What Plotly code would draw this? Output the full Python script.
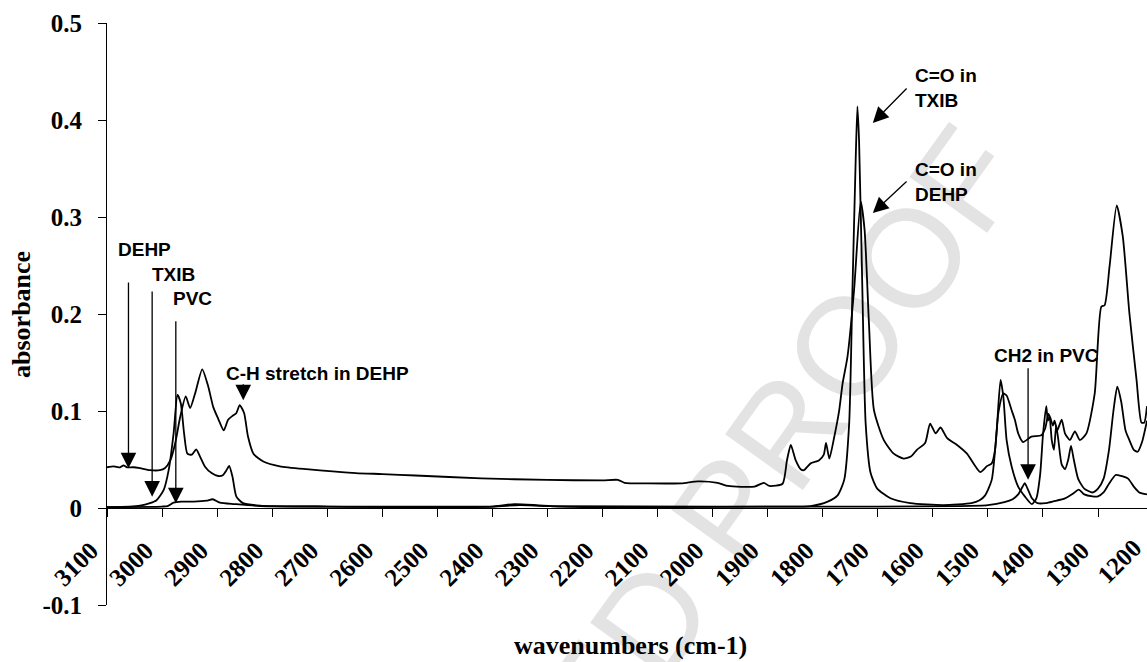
import plotly.graph_objects as go

# ---------------- data ----------------
dehp_wn = [3100, 3088, 3076, 3070, 3064, 3052, 3040, 3022, 3004, 2995, 2985, 2976, 2967, 2957, 2949,
           2940, 2927, 2916, 2907, 2898, 2888, 2880, 2872, 2865, 2859, 2851, 2844, 2834, 2816, 2786,
           2738, 2648, 2600, 2540, 2420, 2300, 2200, 2172, 2160, 2117, 2057, 2027, 1991, 1972, 1924,
           1907, 1897, 1873, 1865, 1858, 1849, 1840, 1834, 1822, 1807, 1798, 1794, 1788, 1779, 1770,
           1764, 1755, 1743, 1731, 1724, 1716, 1707, 1689, 1671, 1653, 1640, 1629, 1614, 1605, 1595,
           1586, 1574, 1556, 1538, 1514, 1502, 1493, 1487, 1481, 1472, 1466, 1457, 1451, 1445, 1436,
           1421, 1403, 1396, 1390, 1386, 1382, 1379, 1374, 1366, 1360, 1351, 1342, 1333, 1321, 1306,
           1294, 1288, 1279, 1266, 1255, 1243, 1230, 1221, 1216, 1211]
dehp_abs = [0.042, 0.043, 0.042, 0.044, 0.042, 0.042, 0.041, 0.039, 0.039, 0.041, 0.049, 0.067, 0.094, 0.115, 0.103,
            0.118, 0.143, 0.125, 0.104, 0.092, 0.080, 0.091, 0.095, 0.098, 0.106, 0.098, 0.074, 0.056, 0.048, 0.043,
            0.040, 0.036, 0.035, 0.0335, 0.0306, 0.0289, 0.0285, 0.029, 0.026, 0.0254, 0.0254, 0.0275, 0.026, 0.0227, 0.022,
            0.026, 0.0227, 0.025, 0.049, 0.065, 0.049, 0.040, 0.039, 0.046, 0.049, 0.055, 0.067, 0.051, 0.0735, 0.101,
            0.128, 0.156, 0.225, 0.316, 0.287, 0.190, 0.101, 0.070, 0.056, 0.051, 0.053, 0.060, 0.067, 0.087, 0.077,
            0.083, 0.072, 0.065, 0.056, 0.037, 0.043, 0.046, 0.060, 0.098, 0.118, 0.116, 0.101, 0.091, 0.077, 0.068,
            0.0735, 0.075, 0.082, 0.097, 0.092, 0.085, 0.090, 0.080, 0.091, 0.077, 0.070, 0.079, 0.070, 0.077, 0.118,
            0.2075, 0.209, 0.249, 0.312, 0.280, 0.201, 0.132, 0.088, 0.088, 0.105]

txib_wn = [3100, 3060, 3040, 3022, 3010, 2997, 2988, 2979, 2972, 2966, 2960, 2954, 2946, 2938, 2931,
           2922, 2910, 2898, 2889, 2883, 2878, 2872, 2865, 2853, 2822, 2700, 2400, 2360, 2320, 2280,
           1900, 1822, 1791, 1773, 1761, 1752, 1746, 1740, 1737, 1734, 1728, 1722, 1713, 1701, 1677,
           1641, 1581, 1530, 1515, 1505, 1493, 1484, 1477, 1472, 1466, 1457, 1445, 1433, 1420, 1412,
           1405, 1400, 1394, 1391, 1388, 1384, 1380, 1376, 1372, 1366, 1360, 1354, 1349, 1344, 1336,
           1325, 1310, 1300, 1290, 1280, 1272, 1265, 1258, 1250, 1243, 1235, 1228, 1220, 1211]
txib_abs = [0.001, 0.0015, 0.0024, 0.005, 0.008, 0.0186, 0.039, 0.077, 0.1165, 0.108, 0.077, 0.056, 0.055, 0.0605, 0.053,
            0.0426, 0.036, 0.033, 0.034, 0.039, 0.0433, 0.032, 0.0117, 0.005, 0.0025, 0.0015, 0.0015, 0.004, 0.003, 0.0015,
            0.0015, 0.002, 0.0065, 0.013, 0.029, 0.087, 0.225, 0.362, 0.414, 0.379, 0.225, 0.087, 0.036, 0.020, 0.010,
            0.005, 0.003, 0.005, 0.008, 0.013, 0.029, 0.080, 0.132, 0.115, 0.070, 0.043, 0.022, 0.012, 0.004, 0.010,
            0.035, 0.075, 0.105, 0.090, 0.094, 0.070, 0.060, 0.085, 0.070, 0.045, 0.040, 0.050, 0.064, 0.050, 0.030,
            0.020, 0.016, 0.020, 0.030, 0.060, 0.100, 0.125, 0.110, 0.080, 0.070, 0.060, 0.058, 0.068, 0.090]

pvc_wn = [3100, 3000, 2990, 2979, 2965, 2943, 2919, 2908, 2895, 2868, 2822, 2700, 2400, 2350, 2300,
          2000, 1700, 1550, 1500, 1470, 1455, 1445, 1437, 1433, 1428, 1420, 1410, 1395, 1380, 1360,
          1345, 1335, 1325, 1310, 1300, 1290, 1280, 1268, 1258, 1245, 1235, 1225, 1211]
pvc_abs = [0.001, 0.0015, 0.002, 0.0055, 0.0065, 0.0065, 0.0075, 0.009, 0.0055, 0.004, 0.002, 0.0015, 0.0015, 0.003, 0.002,
           0.0015, 0.0015, 0.002, 0.003, 0.006, 0.009, 0.014, 0.022, 0.0255, 0.020, 0.010, 0.005, 0.005, 0.007, 0.010,
           0.015, 0.019, 0.014, 0.012, 0.012, 0.016, 0.025, 0.034, 0.033, 0.030, 0.022, 0.016, 0.014]

x_ticks = list(range(3100, 1199, -100))
x_tick_text = [str(v) for v in x_ticks]
y_ticks = [-0.1, 0, 0.1, 0.2, 0.3, 0.4, 0.5]
y_tick_text = ["-0.1", "0", "0.1", "0.2", "0.3", "0.4", "0.5"]

SERIF = "Liberation Serif"
SANS = "Liberation Sans"

fig = go.Figure()
for name, wn, ab in [("DEHP", dehp_wn, dehp_abs), ("TXIB", txib_wn, txib_abs), ("PVC", pvc_wn, pvc_abs)]:
    fig.add_trace(go.Scatter(x=wn, y=ab, mode="lines", name=name, showlegend=False,
                             line=dict(color="black", width=1.8, shape="spline", smoothing=0.6)))

tick_font = dict(family=SERIF, size=25, color="black", weight="bold")
fig.update_layout(
    width=1147, height=662,
    margin=dict(l=107, r=0, t=23, b=57),
    plot_bgcolor="white", paper_bgcolor="white",
    showlegend=False,
    xaxis=dict(range=[3100, 1211], tickvals=x_ticks, ticktext=x_tick_text, tickangle=-45,
               ticks="outside", ticklen=8, tickcolor="black", tickwidth=1,
               ticklabelstandoff=9, ticklabelshift=16,
               showline=True, linecolor="black", linewidth=1, showgrid=False, zeroline=False,
               anchor="free", position=1/6, tickfont=tick_font),
    yaxis=dict(range=[-0.1, 0.5], tickvals=y_ticks, ticktext=y_tick_text,
               ticks="outside", ticklen=8, tickcolor="black", tickwidth=1, ticklabelstandoff=11,
               showline=True, linecolor="black", linewidth=1, showgrid=False, zeroline=False,
               tickfont=tick_font),
)

# watermark (below the traces)
fig.add_shape(type="line", xref="paper", yref="paper", x0=0.0519, y0=-1.160, x1=0.7231, y1=0.5137,
              line=dict(color="rgba(0,0,0,0)", width=1), layer="below",
              label=dict(text="UNCORRECTED PROOF", textposition="middle", yanchor="middle", padding=0,
                         font=dict(family=SANS, size=139, color="#e3e3e3")))

lab_font = dict(family=SANS, size=19, color="black")
text_labels = [
    ("<b>DEHP</b>", 3031, 0.267, "center"),
    ("<b>TXIB</b>", 2979, 0.241, "center"),
    ("<b>PVC</b>", 2945, 0.2165, "center"),
    ("<b>C-H stretch in DEHP</b>", 2717, 0.139, "center"),
    ("<b>C=O in<br>TXIB</b>", 1636, 0.433, "left"),
    ("<b>C=O in<br>DEHP</b>", 1636, 0.336, "left"),
    ("<b>CH2 in PVC</b>", 1393, 0.157, "center"),
]
for txt, xv, yv, xa in text_labels:
    fig.add_annotation(text=txt, x=xv, y=yv, xref="x", yref="y", showarrow=False,
                       xanchor=xa, yanchor="middle", align="left", font=lab_font)

arrows = [  # tip (x, y), tail (x, y)
    (3061, 0.041, 3061, 0.234),
    (3018, 0.0117, 3018, 0.2247),
    (2975, 0.0048, 2975, 0.194),
    (2852.5, 0.111, 2852.5, 0.129),
    (1709, 0.397, 1645, 0.434),
    (1709, 0.304, 1645, 0.338),
    (1427, 0.029, 1427, 0.1457),
]
for tx, ty, ax, ay in arrows:
    fig.add_annotation(text="", x=tx, y=ty, ax=ax, ay=ay, xref="x", yref="y", axref="x", ayref="y",
                       showarrow=True, arrowhead=2, arrowsize=2.4, arrowwidth=1.3, arrowcolor="black")

# axis titles
fig.add_annotation(text="<b>wavenumbers (cm-1)</b>", xref="paper", yref="paper", x=0.503, y=-0.069,
                   showarrow=False, xanchor="center", yanchor="middle",
                   font=dict(family=SERIF, size=26, color="black"))
fig.add_annotation(text="<b>absorbance</b>", xref="paper", yref="paper", x=-0.0827, y=0.5,
                   showarrow=False, textangle=-90, xanchor="center", yanchor="middle",
                   font=dict(family=SERIF, size=26, color="black"))
# last tick label, whose tick lies just past the cropped right edge
fig.add_annotation(text="1200", xref="paper", yref="paper", x=0.9731, y=0.0756,
                   showarrow=False, textangle=-45, xanchor="center", yanchor="middle",
                   font=tick_font)

fig.write_html("out.html")
